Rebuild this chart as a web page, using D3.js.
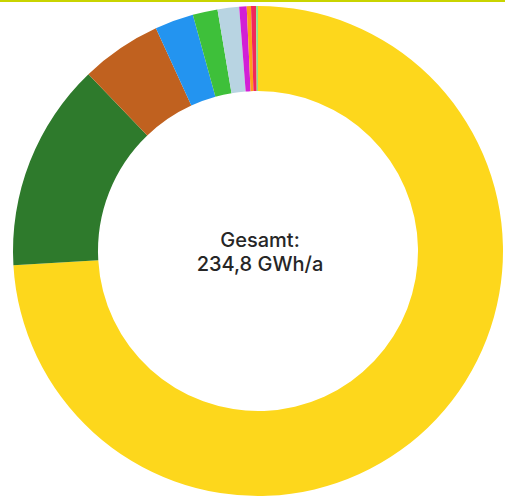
<!DOCTYPE html>
<html>
<head>
<meta charset="utf-8">
<script src="https://cdn.jsdelivr.net/npm/d3@7"></script>
<style>
  html, body { margin: 0; padding: 0; background: #ffffff; }
  svg { display: block; }
</style>
</head>
<body>
<svg id="chart" width="505" height="497"></svg>
<script>
// Energy sources, annual yield in GWh/a (total 234,8)
const categories = [
  "Photovoltaik", "Windenergie", "Biomasse", "Wasserkraft", "Biogas",
  "Klärgas", "Deponiegas", "Geothermie", "KWK", "Sonstige"
];
const values = [173.9, 32.3, 12.5, 6.0, 3.85, 3.33, 1.15, 0.66, 0.77, 0.3];
const colors = [
  "#fdd71c", "#2e7a2c", "#c0611f", "#2394f0", "#3ec03a",
  "#b8d4e2", "#d21fd6", "#ff9d1c", "#f1275a", "#8fe38a"
];
const totalLabel = ["Gesamt:", "234,8 GWh/a"];

const svg = d3.select("#chart");
const width = 505, height = 497;
const cx = 258, cy = 251;
const outerR = 245, innerR = 160;

// thin accent rule along the top edge
svg.append("rect")
  .attr("x", 0).attr("y", 0)
  .attr("width", width).attr("height", 2)
  .attr("fill", "#c9d400");

const data = categories.map((c, i) => ({ name: c, value: values[i], color: colors[i] }));

const pie = d3.pie()
  .sort(null)
  .value(d => d.value);

const arc = d3.arc()
  .innerRadius(innerR)
  .outerRadius(outerR);

const g = svg.append("g").attr("transform", `translate(${cx},${cy})`);

g.selectAll("path")
  .data(pie(data))
  .join("path")
  .attr("d", arc)
  .attr("fill", d => d.data.color);

// centre label: total yield, one text element per line
svg.selectAll("text.total")
  .data(totalLabel)
  .join("text")
  .attr("class", "total")
  .attr("x", cx + 2)
  .attr("y", (d, i) => cy - 4 + i * 24)
  .attr("text-anchor", "middle")
  .attr("font-family", "Inter, 'Noto Sans', sans-serif")
  .attr("font-size", 20)
  .attr("font-weight", 500)
  .attr("fill", "#262626")
  .text(d => d);
</script>
</body>
</html>
